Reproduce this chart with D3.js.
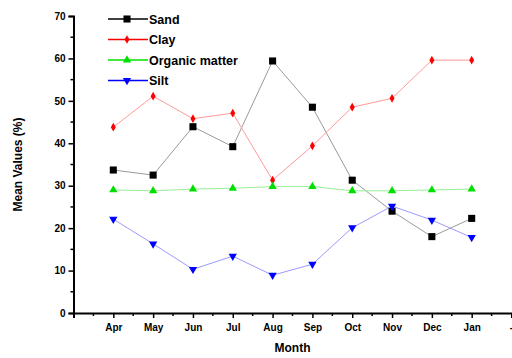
<!DOCTYPE html>
<html>
<head>
<meta charset="utf-8">
<script src="https://cdn.jsdelivr.net/npm/d3@7"></script>
<style>
  html, body { margin: 0; padding: 0; background: #fff; }
  svg { display: block; }
  text { font-family: "Liberation Sans", Arial, sans-serif; fill: #000; }
</style>
</head>
<body>
<svg id="chart" width="512" height="358"></svg>
<script>
// Month positions along the x axis (index 0 is the axis origin)
const months = ["Apr", "May", "Jun", "Jul", "Aug", "Sep", "Oct", "Nov", "Dec", "Jan"];
const tickLabels = ["", "Apr", "May", "Jun", "Jul", "Aug", "Sep", "Oct", "Nov", "Dec", "Jan", "-"];
const yTicks = [0, 10, 20, 30, 40, 50, 60, 70];

// Mean values (%) for each month
const sand    = [33.7, 32.5, 43.9, 39.2, 59.4, 48.5, 31.3, 24.0, 18.0, 22.3];
const clay    = [43.8, 51.1, 45.8, 47.1, 31.3, 39.4, 48.5, 50.6, 59.6, 59.6];
const organic = [29.0, 28.8, 29.2, 29.4, 29.8, 29.8, 28.8, 28.8, 29.0, 29.2];
const silt    = [22.1, 16.3, 10.3, 13.4, 8.9, 11.5, 20.1, 25.2, 21.9, 17.8];

const series = [
  { name: "Sand",           values: sand,    color: "#000000", line: "#9a9a9a", symbol: d3.symbolSquare,   size: 50 },
  { name: "Clay",           values: clay,    color: "#ff0000", line: "#ff9a9a", symbol: d3.symbolDiamond,  size: 22 },
  { name: "Organic matter", values: organic, color: "#00e000", line: "#9aee9a", symbol: d3.symbolTriangle, size: 30 },
  { name: "Silt",           values: silt,    color: "#0000ff", line: "#9a9aff", symbol: d3.symbolTriangle, size: 30, flip: true }
];

const svg = d3.select("#chart");

const x = d3.scaleLinear().domain([0, 11]).range([73.5, 511.5]);
const y = d3.scaleLinear().domain([0, 70]).range([313, 16]);

// Y axis
const yAxis = svg.append("g").attr("transform", `translate(${x(0)},0)`);
yAxis.call(d3.axisLeft(y).tickValues(yTicks).tickSize(5).tickPadding(3).tickFormat(d3.format("d")))
  .call(g => g.select(".domain").attr("stroke-width", 2))
  .call(g => g.selectAll(".tick line").attr("stroke-width", 1.5))
  .call(g => g.selectAll(".tick text").style("font-size", "10px").style("font-weight", "bold"));
yAxis.append("g").selectAll("line")
  .data(d3.range(5, 70, 10))
  .join("line")
  .attr("x1", 0).attr("x2", -3)
  .attr("y1", d => y(d)).attr("y2", d => y(d))
  .attr("stroke", "#000").attr("stroke-width", 1.5);

// X axis
const xAxis = svg.append("g").attr("transform", `translate(0,${y(0)})`);
xAxis.call(d3.axisBottom(x).tickValues(d3.range(0, 12)).tickSize(5).tickPadding(6)
    .tickFormat(i => tickLabels[i]))
  .call(g => g.select(".domain").attr("stroke-width", 2))
  .call(g => g.selectAll(".tick line").attr("stroke-width", 1.5))
  .call(g => g.selectAll(".tick text").style("font-size", "10px").style("font-weight", "bold"))
  // the last label sits on the right edge, so anchor it at its end
  .call(g => g.selectAll(".tick text").filter(i => i === 11).attr("text-anchor", "end").attr("dx", 1));
xAxis.append("g").selectAll("line")
  .data(d3.range(0.5, 11, 1))
  .join("line")
  .attr("x1", d => x(d)).attr("x2", d => x(d))
  .attr("y1", 0).attr("y2", 3)
  .attr("stroke", "#000").attr("stroke-width", 1.5);

// Axis titles
svg.append("text")
  .attr("x", (x(0) + x(11)) / 2).attr("y", 352)
  .attr("text-anchor", "middle")
  .style("font-size", "12px").style("font-weight", "bold")
  .text("Month");
svg.append("text")
  .attr("transform", `translate(22,${y(35)}) rotate(-90)`)
  .attr("text-anchor", "middle")
  .style("font-size", "12px").style("font-weight", "bold")
  .text("Mean Values (%)");

// Series lines and markers
const line = d3.line().x((d, i) => x(i + 1)).y(d => y(d));
series.forEach(s => {
  svg.append("path")
    .datum(s.values)
    .attr("fill", "none")
    .attr("stroke", s.line)
    .attr("stroke-width", 1)
    .attr("d", line);
  svg.append("g").selectAll("path")
    .data(s.values)
    .join("path")
    .attr("d", d3.symbol().type(s.symbol).size(s.size))
    .attr("transform", (d, i) => `translate(${x(i + 1)},${y(d)})${s.flip ? " rotate(180)" : ""}`)
    .attr("fill", s.color);
});

// Legend
const legend = svg.append("g");
series.forEach((s, i) => {
  const ly = 19 + i * 20.5;
  legend.append("line")
    .attr("x1", 108).attr("x2", 148).attr("y1", ly).attr("y2", ly)
    .attr("stroke", s.color).attr("stroke-width", 1.5);
  legend.append("path")
    .attr("d", d3.symbol().type(s.symbol).size(s.size))
    .attr("transform", `translate(127,${ly})${s.flip ? " rotate(180)" : ""}`)
    .attr("fill", s.color);
  legend.append("text")
    .attr("x", 149).attr("y", ly + 4.5)
    .style("font-size", "12.5px").style("font-weight", "bold")
    .text(s.name);
});
</script>
</body>
</html>
